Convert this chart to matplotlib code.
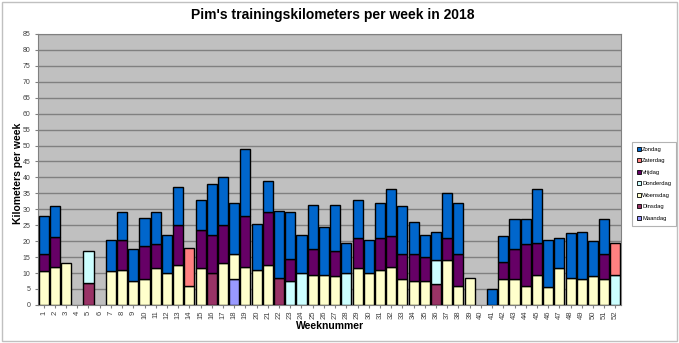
import numpy as np
import matplotlib
matplotlib.use("Agg")
import matplotlib.pyplot as plt
from matplotlib.patches import Rectangle

plt.rcParams['font.family'] = ['Liberation Sans', 'DejaVu Sans']

weeks = list(range(1, 53))

# km per day of the week, per week number
maandag = [0]*52
maandag[17] = 8

dinsdag = [0]*52
dinsdag[4] = 7
dinsdag[15] = 10
dinsdag[21] = 8.5
dinsdag[35] = 6.5

woensdag = [10.5, 12, 13, 0, 0, 0, 10.5, 11, 7.5, 8, 11.5, 10, 12.5, 6, 11.5, 0, 13, 8, 12, 11,
            12.5, 0, 0, 0, 9.5, 9.5, 9, 0, 11.5, 10, 11, 12, 8, 7.5, 7.5, 0, 14, 6, 8.5, 0,
            0, 8, 8, 6, 9.5, 5.5, 11.5, 8.5, 8, 9, 8, 0]

donderdag = [0]*52
donderdag[4] = 10
donderdag[22] = 7.5
donderdag[23] = 10
donderdag[27] = 10
donderdag[35] = 7.5
donderdag[51] = 9.5

vrijdag = [5.5, 9.3, 0, 0, 0, 0, 0, 9.5, 0, 10.4, 7.5, 0, 12.5, 0, 12, 12, 12, 0, 16, 0,
           16.5, 0, 7, 0, 8, 0, 8, 0, 9.5, 0, 10, 9.5, 8, 8.5, 7.5, 0, 7, 10, 0, 0,
           0, 5.5, 9.5, 13, 10, 0, 0, 0, 0, 0, 8, 0]

zaterdag = [0]*52
zaterdag[13] = 12
zaterdag[51] = 10

zondag = [12, 9.7, 0, 0, 0, 0, 10, 8.5, 10, 9, 10, 12, 12, 0, 9.5, 16, 15, 16, 21, 14.5,
          10, 21, 14.5, 12, 14, 15, 14.5, 9.5, 12, 10.5, 11, 15, 15, 10, 7, 9, 14, 16, 0, 0,
          5, 8, 9.5, 8, 17, 15, 9.5, 14, 15, 11, 11, 0]

days = ["Maandag", "Dinsdag", "Woensdag", "Donderdag", "Vrijdag", "Zaterdag", "Zondag"]
series = [maandag, dinsdag, woensdag, donderdag, vrijdag, zaterdag, zondag]
colors = ["#9999FF", "#993366", "#FFFFCC", "#CCFFFF", "#660066", "#FF8080", "#0066CC"]

fig = plt.figure(figsize=(6.79, 3.43), dpi=100)
ax = fig.add_axes([0.056, 0.111, 0.8586, 0.79])
ax.set_facecolor("#C0C0C0")

x = np.arange(len(weeks))
bottom = np.zeros(len(weeks))
handles = []
for name, vals, c in zip(days, series, colors):
    vals = np.array(vals, dtype=float)
    nz = vals > 0
    ax.bar(x[nz], vals[nz], bottom=bottom[nz], width=0.9, color=c, edgecolor="black",
           linewidth=1.0, zorder=3)
    handles.append(Rectangle((0, 0), 1, 1, facecolor=c, edgecolor="black", linewidth=0.6))
    bottom += vals

ax.set_xlim(-0.5, len(weeks) - 0.5)
ax.set_ylim(0, 85)
ax.set_yticks(np.arange(0, 86, 5))
ax.set_xticks(x)
ax.set_xticklabels([str(w) for w in weeks], rotation=90, fontsize=5.5, color="#404040")
ax.tick_params(axis="y", labelsize=5, length=2, color="#808080", labelcolor="#404040")
ax.tick_params(axis="x", length=2, color="#808080", pad=2)
ax.yaxis.grid(True, color="#808080", linewidth=1.0, zorder=0)
ax.set_axisbelow(True)
for s in ax.spines.values():
    s.set_color("#808080")

fig.text(0.027, 0.495, "Kilometers per week", rotation=90, ha="center", va="center",
         fontsize=7.5, fontweight="bold")
fig.text(0.486, 0.05, "Weeknummer", ha="center", va="center", fontsize=7.5, fontweight="bold")
fig.text(0.49, 0.955, "Pim's trainingskilometers per week in 2018", ha="center", va="center",
         fontsize=10, fontweight="bold")

leg = fig.legend(handles[::-1], days[::-1], loc="center left", bbox_to_anchor=(0.931, 0.464),
                 fontsize=4.2, frameon=True, fancybox=False, handlelength=0.7, handleheight=0.7,
                 labelspacing=1.1, borderpad=0.8, handletextpad=0.25, borderaxespad=0)
leg.get_frame().set_edgecolor("#A0A0A0")
leg.get_frame().set_linewidth(0.8)

fig.patches.append(Rectangle((0.003, 0.006), 0.994, 0.988, transform=fig.transFigure,
                             fill=False, edgecolor="#C0C0C0", linewidth=1.0))

fig.savefig("out.png", dpi=100)
